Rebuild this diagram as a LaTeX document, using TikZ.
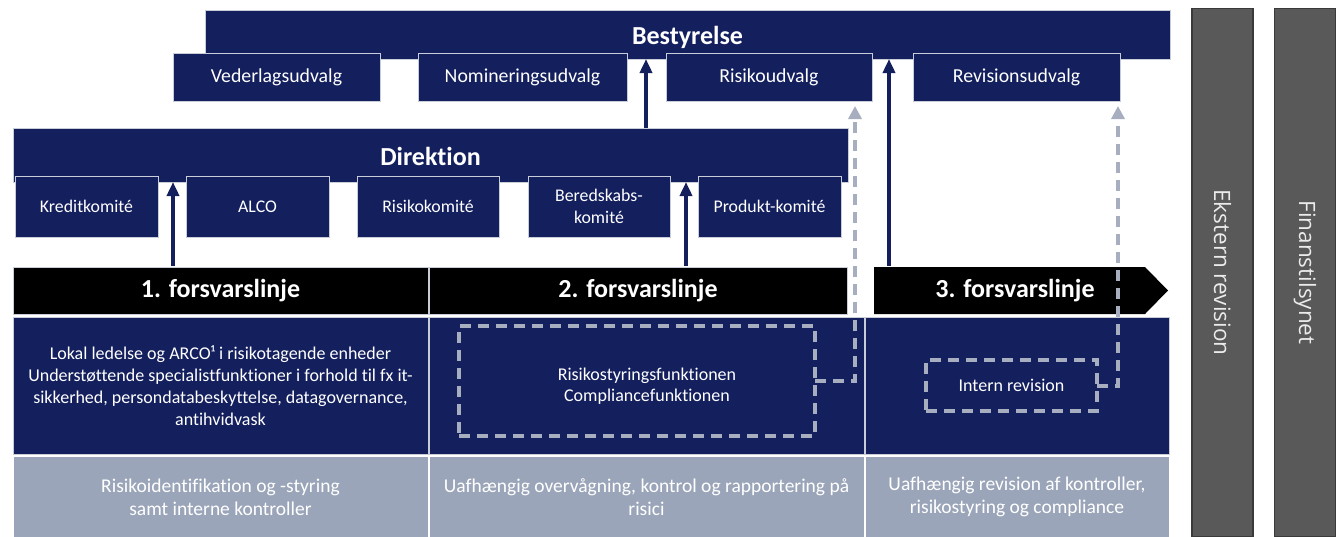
\documentclass[tikz,border=0pt]{standalone}
\usepackage{fontspec}
\setmainfont{Carlito}[Ligatures=NoCommon]
\newfontfamily\sidefont{Open Sans}
\usetikzlibrary{arrows.meta}
\definecolor{navy}{HTML}{141F5E}
\definecolor{rowgrey}{HTML}{9BA5B9}
\definecolor{dgrey}{HTML}{A6AEBF}
\definecolor{barfill}{HTML}{595959}
\definecolor{barline}{HTML}{3A3A3A}
\definecolor{edge}{HTML}{C9CDD8}
\tikzset{
  nbox/.style={fill=navy, draw=edge, line width=1pt, text=white, inner sep=0pt, outer sep=0pt, align=center},
  bigtitle/.style={nbox, font=\fontsize{26}{30}\selectfont\bfseries},
  comA/.style={nbox, font=\fontsize{19.8}{23}\selectfont, minimum height=48pt},
  comB/.style={nbox, font=\fontsize{17.8}{22}\selectfont, minimum height=61pt},
  headcell/.style={fill=black, draw=edge, line width=1pt, text=white, inner sep=0pt, outer sep=0pt, minimum height=47pt, font=\fontsize{26}{30}\selectfont\bfseries},
  bodycell/.style={nbox, minimum height=137pt, font=\fontsize{18}{22}\selectfont},
  greycell/.style={fill=rowgrey, draw=white, line width=1pt, text=white, inner sep=0pt, outer sep=0pt, align=center, minimum height=81pt, font=\fontsize{19.5}{23}\selectfont},
  dashbox/.style={draw=dgrey, line width=4pt, dash pattern=on 11pt off 7pt, inner sep=0pt, outer sep=0pt},
  bodytext/.style={text=white, align=center, inner sep=0pt, font=\fontsize{18}{21}\selectfont},
  uparrow/.style={draw=navy, line width=4pt, -{Triangle[width=12pt,length=14pt]}},
  dasharrow/.style={draw=dgrey, line width=4pt, dash pattern=on 11pt off 7pt, -{Triangle[width=13pt,length=13pt]}},
  sidebar/.style={fill=barfill, draw=barline, line width=1.5pt, text=white!92!black, inner sep=0pt, outer sep=0pt, rotate=-90, minimum width=528pt, minimum height=61pt, font=\sidefont\fontsize{22.5}{26}\selectfont}
}
\begin{document}
\begin{tikzpicture}[x=1pt,y=-1pt]
\useasboundingbox (0,0) rectangle (1342,536);

% Bestyrelse and its committees
\node[bigtitle, minimum width=965pt, minimum height=49pt, text height=22pt, text depth=2pt] (best) at (687.5,34.5) {Bestyrelse};
\node[comA, minimum width=207pt] (veder) at (276.5,77) {Vederlagsudvalg};
\node[comA, minimum width=209pt] (nomin) at (522.5,77) {Nomineringsudvalg};
\node[comA, minimum width=206pt] (risud) at (769,77) {Risikoudvalg};
\node[comA, minimum width=207pt] (revud) at (1016.5,77) {Revisionsudvalg};

% Direktion and its committees
\node[bigtitle, minimum width=835pt, minimum height=54pt, text height=22pt, text depth=2pt] (dir) at (430.5,155) {Direktion};
\node[comB, minimum width=143pt] (kredit) at (86.5,206.5) {Kreditkomité};
\node[comB, minimum width=143pt] (alco) at (257.5,206.5) {ALCO};
\node[comB, minimum width=142pt] (riskom) at (428,206.5) {Risikokomité};
\node[comB, minimum width=142pt] (bered) at (599,206.5) {Beredskabs-\\komité};
\node[comB, minimum width=143pt] (prod) at (769.5,206.5) {Produkt-komité};

% Header row
\node[headcell, minimum width=415pt] (h1) at (220.5,290.5) {1. forsvarslinje};
\node[headcell, minimum width=418pt] (h2) at (638,290.5) {2. forsvarslinje};
\fill[black] (874,267) -- (1145,267) -- (1168,290.5) -- (1145,314) -- (874,314) -- cycle;
\node[text=white, inner sep=0pt, font=\fontsize{26}{30}\selectfont\bfseries] (h3) at (1015,290.5) {3. forsvarslinje};

% Body row
\node[bodycell, minimum width=415pt] (b1) at (220.5,385.5) {Lokal ledelse og ARCO¹ i risikotagende enheder\\Understøttende specialistfunktioner i forhold til fx it-\\sikkerhed, persondatabeskyttelse, datagovernance,\\antihvidvask};
\node[bodycell, minimum width=435pt] (b2) at (646.5,385.5) {};
\node[bodycell, minimum width=304pt] (b3) at (1017,385.5) {};

% Grey row
\node[greycell, minimum width=415pt] (g1) at (220.5,497) {Risikoidentifikation og -styring\\samt interne kontroller};
\node[greycell, minimum width=435pt] (g2) at (646.5,497) {Uafhængig overvågning, kontrol og rapportering på\\risici};
\node[greycell, minimum width=304pt] (g3) at (1017,497) {Uafhængig revision af kontroller,\\risikostyring og compliance};

% Dashed function boxes
\node[dashbox, minimum width=356pt, minimum height=110pt] (riskbox) at (637,381) {};
\node[bodytext] (risktext) at (647,386) {Risikostyringsfunktionen\\Compliancefunktionen};
\node[dashbox, minimum width=171pt, minimum height=51pt, bodytext] (intern) at (1011.5,385.5) {Intern revision};

% Side bars
\node[sidebar] (ekst) at (1222.5,272.5) {Ekstern revision};
\node[sidebar] (finans) at (1305,272.5) {Finanstilsynet};

% Connector coordinates
\coordinate (a1) at (173,266);
\coordinate (a2) at (686,266);
\coordinate (a3) at (646,128);
\coordinate (a4) at (889,266);
\coordinate (d1) at (855,106);
\coordinate (d2) at (1118,106);

% Solid arrows
\draw[uparrow] (a1) -- (a1 |- dir.south);
\draw[uparrow] (a2) -- (a2 |- dir.south);
\draw[uparrow] (a3) -- (a3 |- best.south);
\draw[uparrow] (a4) -- (a4 |- best.south);

% Dashed arrows
\draw[dasharrow] (riskbox.east) -| (d1);
\draw[dasharrow] (intern.east) -| (d2);
\end{tikzpicture}
\end{document}
